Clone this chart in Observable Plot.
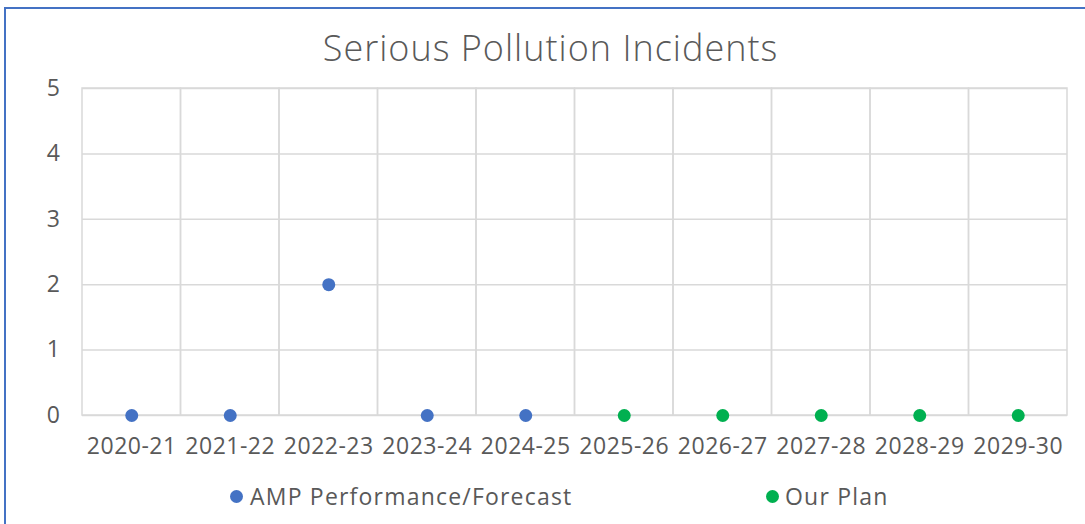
<!DOCTYPE html>
<html><head><meta charset="utf-8">
<script src="https://cdn.jsdelivr.net/npm/d3@7"></script>
<script src="https://cdn.jsdelivr.net/npm/@observablehq/plot@0.6"></script>
<style>
body{margin:0;background:#fff;}
#wrap{position:relative;width:1085px;height:524px;overflow:hidden;font-family:"Open Sans",sans-serif;color:#595959;background:#fff;}
#frame{position:absolute;left:4px;top:7px;width:1200px;height:600px;border-left:2px solid #4472C4;border-top:2px solid #4472C4;box-sizing:border-box;}
#title{position:absolute;left:0;width:1101px;top:30px;text-align:center;font-size:36px;letter-spacing:1px;font-weight:300;line-height:1;}
#chart{position:absolute;left:0;top:0;}
.leg{position:absolute;top:483px;font-size:23px;letter-spacing:1.2px;line-height:26px;white-space:nowrap;}
.leg .sw{position:absolute;width:13px;height:13px;border-radius:50%;top:7px;}
</style></head>
<body>
<div id="wrap">
  <div id="frame"></div>
  <div id="chart"></div>
  <div id="title">Serious Pollution Incidents</div>
</div>
<script>
const titleText = "Serious Pollution Incidents";
const years = ["2020-21","2021-22","2022-23","2023-24","2024-25","2025-26","2026-27","2027-28","2028-29","2029-30"];
const seriesNames = ["AMP Performance/Forecast","Our Plan"];
const seriesColors = ["#4472C4","#00B050"];
const ampYears = ["2020-21","2021-22","2022-23","2023-24","2024-25"];
const ampValues = [0,0,2,0,0];
const planYears = ["2025-26","2026-27","2027-28","2028-29","2029-30"];
const planValues = [0,0,0,0,0];
const yTicks = [0,1,2,3,4,5];

const rows = [
  ...ampYears.map((y,i)=>({year:y,value:ampValues[i],series:seriesNames[0]})),
  ...planYears.map((y,i)=>({year:y,value:planValues[i],series:seriesNames[1]}))
];

const grid = "#d9d9d9";
const chart = Plot.plot({
  width:1085, height:470,
  marginLeft:82, marginRight:18, marginTop:88, marginBottom:55,
  style:{fontFamily:"'Open Sans', sans-serif", fontSize:"23px", color:"#595959", background:"transparent", letterSpacing:"0.5px"},
  x:{type:"band", domain:years, padding:0, round:false, label:null},
  y:{domain:[0,5], label:null},
  color:{domain:seriesNames, range:seriesColors},
  marks:[
    Plot.ruleY(yTicks, {y:d=>d, stroke:grid, strokeWidth:1.5}),
    Plot.cell(years, {x:d=>d, fill:"none", stroke:grid, strokeWidth:1.5}),
    Plot.axisX({tickSize:0, tickPadding:22, fontSize:23}),
    Plot.axisY(yTicks, {tickSize:0, tickPadding:22, fontSize:23, tickFormat:d=>String(d)}),
    Plot.dot(rows, {x:"year", y:"value", fill:"series", r:6.5})
  ]
});
document.getElementById("chart").appendChild(chart);
document.getElementById("title").textContent = titleText;

const legPos = [[250,236],[785,772]];
const wrap = document.getElementById("wrap");
seriesNames.forEach((name,i)=>{
  const d = document.createElement("div");
  d.className = "leg";
  d.style.left = legPos[i][0] + "px";
  const sw = document.createElement("span");
  sw.className = "sw";
  sw.style.background = seriesColors[i];
  sw.style.left = (legPos[i][1] - legPos[i][0] - 6.5) + "px";
  d.appendChild(sw);
  d.appendChild(document.createTextNode(name));
  wrap.appendChild(d);
});
</script>
</body></html>
